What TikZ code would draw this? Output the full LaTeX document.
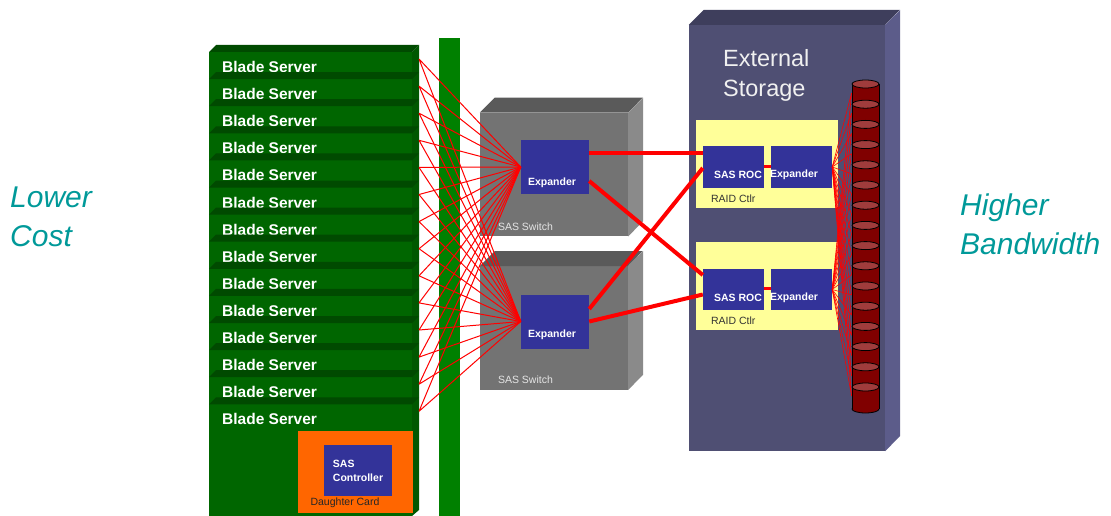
\documentclass[tikz,border=0pt]{standalone}
\usepackage{fontspec}
\setmainfont{Liberation Sans}
\usetikzlibrary{shapes.geometric}
\definecolor{bladegreen}{RGB}{0,102,0}
\definecolor{bladetop}{RGB}{0,74,0}
\definecolor{bladeside}{RGB}{0,88,0}
\definecolor{midplane}{RGB}{0,128,0}
\definecolor{chipblue}{RGB}{51,51,153}
\definecolor{cardorange}{RGB}{255,102,0}
\definecolor{swfront}{RGB}{115,115,115}
\definecolor{swtop}{RGB}{90,90,90}
\definecolor{swside}{RGB}{138,138,138}
\definecolor{stfront}{RGB}{79,79,115}
\definecolor{sttop}{RGB}{62,62,92}
\definecolor{stside}{RGB}{92,92,138}
\definecolor{raidyellow}{RGB}{255,255,153}
\definecolor{diskbody}{RGB}{128,0,0}
\definecolor{diskface}{RGB}{160,60,60}
\definecolor{costteal}{RGB}{0,153,153}

\begin{document}
\begin{tikzpicture}[x=1pt,y=-1pt,every node/.style={inner sep=0pt},
  blade/.style={text=white,font=\fontsize{15.5}{18}\selectfont\bfseries},
  chip/.style={fill=chipblue,minimum width=68pt,minimum height=54pt},
  roc/.style={fill=chipblue,minimum width=61pt,minimum height=41pt},
  chiptext/.style={text=white,font=\fontsize{10.5}{14}\selectfont\bfseries},
  smalltext/.style={font=\fontsize{10.5}{12}\selectfont},
  swbox/.style={fill=swfront,minimum width=148pt,minimum height=123.5pt},
  raid/.style={fill=raidyellow,minimum width=142pt,minimum height=88pt},
  disk/.style={ellipse,draw=black,line width=0.8pt,fill=diskface,minimum width=27pt,minimum height=8pt},
  wire/.style={red,line width=1pt},
  fanwire/.style={red,line width=0.6pt},
  link/.style={red,line width=4pt},
  sidelabel/.style={align=left,text=costteal,font=\fontsize{30}{39}\selectfont\itshape}]
\useasboundingbox (0,0) rectangle (1111,516);

\node[sidelabel,anchor=west] (lc) at (10,216.5) {Lower\\Cost};
\node[sidelabel,anchor=west] (hb) at (960,224) {Higher\\Bandwidth};

% blade rack
\fill[bladegreen] (209,52) rectangle (412,516);
\fill[bladeside] (412,52) -- (419,45) -- (419,510) -- (412,516) -- cycle;
\foreach \i in {0,...,13} {
  \fill[bladetop] (209,52+27.1*\i) -- (216,45+27.1*\i) -- (419,45+27.1*\i) -- (412,52+27.1*\i) -- cycle;
  \node[blade,anchor=west] (bs\i) at (222,67+27.1*\i) {Blade Server};
  \coordinate (p\i) at (419,59+27.1*\i);
}
\node[fill=cardorange,minimum width=115pt,minimum height=82pt] (card) at (355.5,472) {};
\node[chip,minimum height=51pt,chiptext,align=left] (ctl) at (358,470.5) {SAS\\Controller};
\node[smalltext,text=black!85] at (345,503) {Daughter Card};

\fill[midplane] (439,38) rectangle (460,516);

% switches
\foreach \n/\y in {1/174.5,2/328} {
  \node[swbox] (sw\n) at (554,\y) {};
  \fill[swtop] (sw\n.north west) -- ++(15,-15) -- ++(148,0) -- (sw\n.north east) -- cycle;
  \fill[swside] (sw\n.north east) -- ++(15,-15) -- ++(0,123.5) -- (sw\n.south east) -- cycle;
  \node[smalltext,text=white!90!black,anchor=west] at ([xshift=18pt,yshift=10pt]sw\n.south west) {SAS Switch};
}
\node[chip] (ex1) at (555,167) {};
\node[chip] (ex2) at (555,321.5) {};
\node[chiptext] at ([xshift=-3pt,yshift=-16pt]ex1.center) {Expander};
\node[chiptext] at ([xshift=-3pt,yshift=-13pt]ex2.center) {Expander};

% storage
\node[fill=stfront,minimum width=196pt,minimum height=426pt] (st) at (787,238) {};
\fill[sttop] (st.north west) -- ++(15,-15) -- ++(196,0) -- (st.north east) -- cycle;
\fill[stside] (st.north east) -- ++(15,-15) -- ++(0,426) -- (st.south east) -- cycle;
\node[anchor=west,align=left,text=white!94!black,font=\fontsize{23.5}{30}\selectfont] (title) at (723,75) {External\\Storage};

\foreach \n/\y in {1/164,2/286} {
  \node[raid] (rc\n) at (767,\y) {};
  \node[smalltext,text=black!80,anchor=west] at ([xshift=15pt,yshift=9pt]rc\n.south west) {RAID Ctlr};
}
\node[roc] (roc1) at (733.5,167) {};
\node[roc] (roc2) at (733.5,289.5) {};
\node[roc] (sx1) at (801.5,167) {};
\node[roc] (sx2) at (801.5,289.5) {};
\foreach \n in {1,2} {
  \node[chiptext] at ([xshift=4.5pt,yshift=-8pt]roc\n.center) {SAS ROC};
  \node[chiptext] at ([xshift=-7.5pt,yshift=-8pt]sx\n.center) {Expander};
  \draw[red,line width=3pt] ([yshift=1pt]roc\n.east) -- ([yshift=1pt]sx\n.west);
}

% disks
\fill[diskbody,draw=black,line width=0.8pt] (865.5,409) ellipse [x radius=13.5pt,y radius=4pt];
\fill[diskbody] (852,84) rectangle (879,409);
\draw[line width=0.8pt] (852,84) -- (852,409) (879,84) -- (879,409);
\foreach \k in {0,...,15}
  \node[disk] (d\k) at (865.5,84+20.2*\k) {};

% connections
\foreach \i in {0,...,13}
  \draw[wire] (p\i) -- (ex1.west) (p\i) -- (ex2.west);
\draw[link] ([yshift=14pt]ex1.east) -- ([yshift=14pt]roc1.west);
\draw[link] ([yshift=-14pt]ex1.east) -- ([yshift=14.5pt]roc2.west);
\draw[link] ([yshift=12.5pt]ex2.east) -- ([yshift=-1pt]roc1.west);
\draw[link] (ex2.east) -- ([yshift=-5pt]roc2.west);
\foreach \k in {0,...,15}
  \draw[fanwire] (sx1.east) -- ([yshift=-9pt]d\k.west) (sx2.east) -- ([yshift=-9pt]d\k.west);
\end{tikzpicture}
\end{document}
